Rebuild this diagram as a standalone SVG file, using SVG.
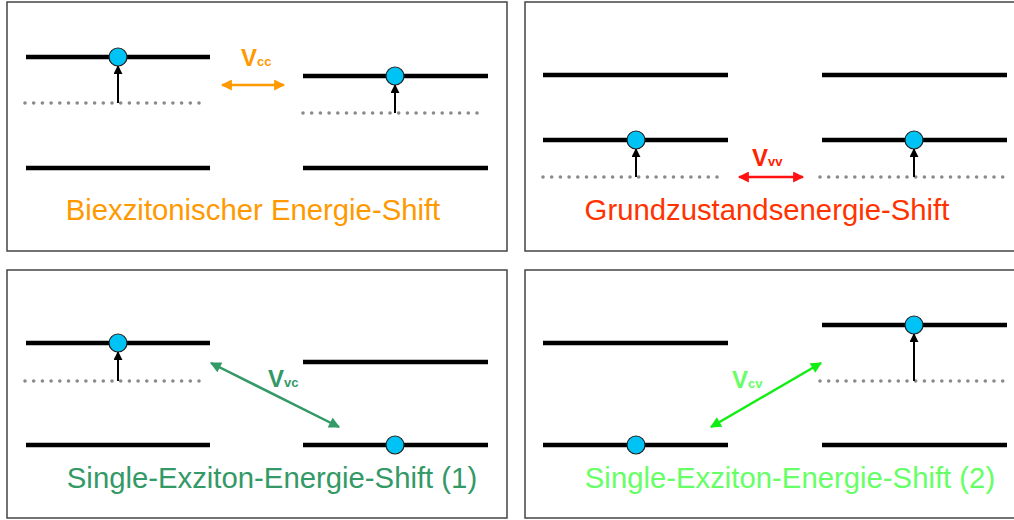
<svg xmlns="http://www.w3.org/2000/svg" width="1014" height="520" viewBox="0 0 1014 520">
<style>
.frame{fill:#fff;stroke:#444;stroke-width:1.5}
.lvl{stroke:#000;stroke-width:4.5}
.dot{stroke:#8a8a8a;stroke-width:3.6;stroke-linecap:round;stroke-dasharray:0 8.7}
.e{fill:#00C3F5;stroke:#222;stroke-width:1.2}
.up{stroke:#000;stroke-width:2;marker-end:url(#ah)}
.title{font-family:"Liberation Sans",Arial,sans-serif;font-size:29.3px;text-anchor:middle}
.lab{font-family:"Liberation Sans",Arial,sans-serif;font-weight:bold;font-size:24px}
.sub{font-size:13px}
</style>
<defs>
<marker id="ah" viewBox="0 0 10 10" refX="9" refY="5" markerWidth="4.5" markerHeight="4.5" orient="auto" markerUnits="strokeWidth"><path d="M0,0 L10,5 L0,10 z" fill="#000"/></marker>
<marker id="ho" viewBox="0 0 10 10" refX="9" refY="5" markerWidth="5" markerHeight="4.4" orient="auto-start-reverse" markerUnits="strokeWidth"><path d="M0,0 L10,5 L0,10 z" fill="#FF9900"/></marker>
<marker id="hr" viewBox="0 0 10 10" refX="9" refY="5" markerWidth="5" markerHeight="4.4" orient="auto-start-reverse" markerUnits="strokeWidth"><path d="M0,0 L10,5 L0,10 z" fill="#FF1111"/></marker>
<marker id="hg" viewBox="0 0 10 10" refX="9" refY="5" markerWidth="5" markerHeight="4.4" orient="auto-start-reverse" markerUnits="strokeWidth"><path d="M0,0 L10,5 L0,10 z" fill="#339966"/></marker>
<marker id="hl" viewBox="0 0 10 10" refX="9" refY="5" markerWidth="5" markerHeight="4.4" orient="auto-start-reverse" markerUnits="strokeWidth"><path d="M0,0 L10,5 L0,10 z" fill="#11EE11"/></marker>
</defs>

<g id="panel-biexciton">
<rect class="frame" x="7" y="2" width="500" height="249"/>
<line class="lvl" x1="26" y1="57" x2="210" y2="57"/>
<line class="dot" x1="25" y1="103" x2="207" y2="103"/>
<line class="up" x1="118" y1="103" x2="118" y2="66"/>
<circle class="e" cx="118" cy="57" r="9"/>
<line class="lvl" x1="26" y1="168" x2="210" y2="168"/>
<line class="lvl" x1="303" y1="76" x2="488" y2="76"/>
<line class="dot" x1="303" y1="113" x2="485" y2="113"/>
<line class="up" x1="395" y1="113" x2="395" y2="85"/>
<circle class="e" cx="395" cy="76" r="9"/>
<line class="lvl" x1="303" y1="168" x2="488" y2="168"/>
<text class="title" x="253" y="220" fill="#FF9900">Biexzitonischer Energie-Shift</text>
</g>

<g id="panel-ground">
<rect class="frame" x="525" y="2" width="495" height="249"/>
<line class="lvl" x1="543" y1="75" x2="728" y2="75"/>
<line class="lvl" x1="822" y1="75" x2="1007" y2="75"/>
<line class="lvl" x1="543" y1="140" x2="728" y2="140"/>
<line class="lvl" x1="822" y1="140" x2="1007" y2="140"/>
<line class="dot" x1="543" y1="177" x2="725" y2="177"/>
<line class="dot" x1="820" y1="177" x2="1003" y2="177"/>
<line class="up" x1="636" y1="177" x2="636" y2="149"/>
<line class="up" x1="914" y1="177" x2="914" y2="149"/>
<circle class="e" cx="636" cy="140" r="9"/>
<circle class="e" cx="914" cy="140" r="9"/>
<text class="title" x="767" y="220" fill="#FF3300">Grundzustandsenergie-Shift</text>
</g>

<g id="panel-single1">
<rect class="frame" x="7" y="270" width="500" height="248"/>
<line class="lvl" x1="26" y1="343" x2="210" y2="343"/>
<line class="dot" x1="25" y1="381" x2="207" y2="381"/>
<line class="up" x1="118" y1="381" x2="118" y2="352"/>
<circle class="e" cx="118" cy="343" r="9"/>
<line class="lvl" x1="26" y1="445" x2="210" y2="445"/>
<line class="lvl" x1="303" y1="362" x2="488" y2="362"/>
<line class="lvl" x1="303" y1="445" x2="488" y2="445"/>
<circle class="e" cx="395" cy="445" r="9"/>
<text class="title" x="272" y="488" fill="#339966">Single-Exziton-Energie-Shift (1)</text>
</g>

<g id="panel-single2">
<rect class="frame" x="525" y="270" width="495" height="248"/>
<line class="lvl" x1="543" y1="343" x2="728" y2="343"/>
<line class="lvl" x1="543" y1="445" x2="728" y2="445"/>
<circle class="e" cx="636" cy="445" r="9"/>
<line class="lvl" x1="822" y1="325" x2="1007" y2="325"/>
<line class="dot" x1="820" y1="381" x2="1003" y2="381"/>
<line class="up" x1="914" y1="381" x2="914" y2="334"/>
<circle class="e" cx="914" cy="325" r="9"/>
<line class="lvl" x1="822" y1="445" x2="1007" y2="445"/>
<text class="title" x="790" y="488" fill="#66FF66">Single-Exziton-Energie-Shift (2)</text>
</g>

<g id="connectors">
<line x1="222" y1="85" x2="284" y2="85" stroke="#FF9900" stroke-width="2.5" marker-start="url(#ho)" marker-end="url(#ho)"/>
<text class="lab" x="241" y="66" fill="#FF9900">V<tspan class="sub">cc</tspan></text>
<line x1="739" y1="177" x2="803" y2="177" stroke="#FF1111" stroke-width="2.5" marker-start="url(#hr)" marker-end="url(#hr)"/>
<text class="lab" x="752" y="166" fill="#FF2200">V<tspan class="sub">vv</tspan></text>
<line x1="211" y1="363" x2="339" y2="427" stroke="#339966" stroke-width="2.5" marker-start="url(#hg)" marker-end="url(#hg)"/>
<text class="lab" x="268" y="387" fill="#339966">V<tspan class="sub">vc</tspan></text>
<line x1="711" y1="427" x2="821" y2="363" stroke="#11EE11" stroke-width="2.5" marker-start="url(#hl)" marker-end="url(#hl)"/>
<text class="lab" x="732" y="388" fill="#66FF66">V<tspan class="sub">cv</tspan></text>
</g>
</svg>
